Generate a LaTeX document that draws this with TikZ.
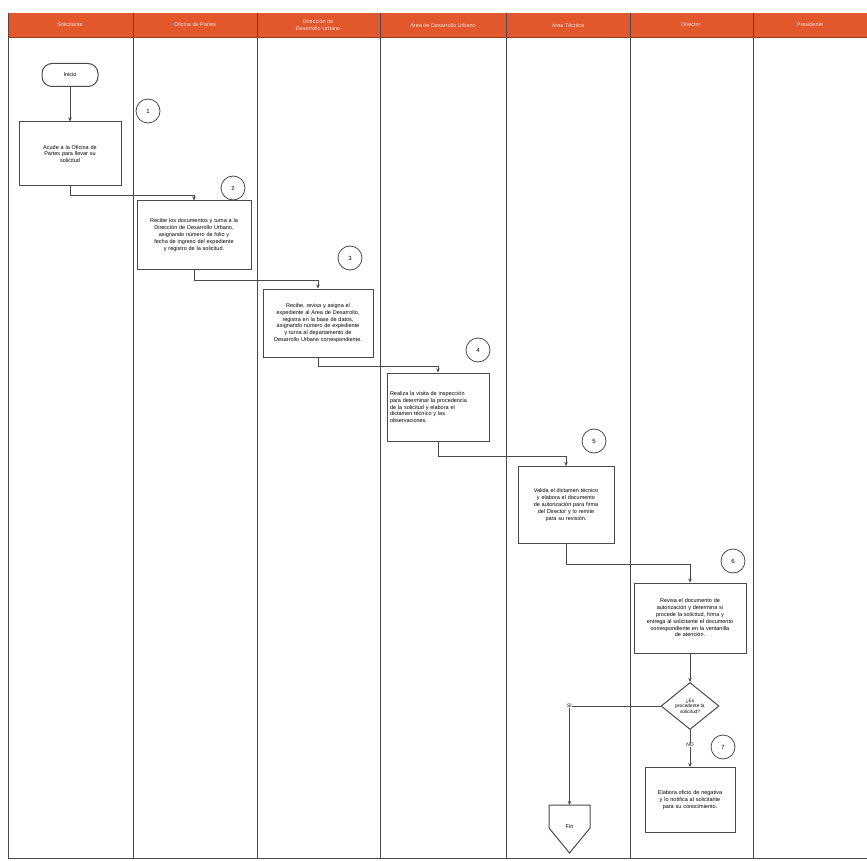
\documentclass[tikz,border=0pt]{standalone}
\usepackage{fontspec}
\setmainfont{Liberation Sans}
\usetikzlibrary{arrows.meta,shapes.geometric}
\definecolor{hdr}{HTML}{E2572B}
\definecolor{ln}{HTML}{4A4A4A}
\tikzset{
  lane/.style={draw=ln,line width=0.9pt},
  proc/.style={draw=ln,line width=1pt,fill=white,align=center,font=\fontsize{5.5}{6.8}\selectfont,inner sep=2pt},
  stepnum/.style={circle,draw=ln,line width=0.8pt,minimum size=24pt,inner sep=0pt,font=\fontsize{6}{7}\selectfont},
  conn/.style={draw=ln,line width=0.9pt,-{Stealth[length=4pt,width=3.5pt]}},
  hdrtext/.style={text=white!85!hdr,font=\fontsize{5.5}{6.5}\selectfont,align=center},
  lbl/.style={font=\fontsize{5}{6}\selectfont,fill=white,inner sep=0.5pt}
}
\begin{document}
\begin{tikzpicture}[x=1pt,y=-1pt]
\useasboundingbox (0,0) rectangle (867,861);
\fill[white] (0,0) rectangle (867,861);
% header
\fill[hdr] (8,13) rectangle (867,37);
\draw[hdr!70!black,line width=0.8pt] (8,37) -- (867,37);
% lanes
\foreach \x in {8,133,257,380,506,630,753} {\draw[lane] (\x,13) -- (\x,858);}
\draw[lane] (8,858) -- (867,858);
% header texts
\node[hdrtext] (h1) at (70,25) {Solicitante};
\node[hdrtext] (h2) at (195,25) {Oficina de Partes};
\node[hdrtext] (h3) at (318,25) {Dirección de\\Desarrollo Urbano};
\node[hdrtext] (h4) at (443,25) {Área de Desarrollo Urbano};
\node[hdrtext] (h5) at (568,25) {Área Técnica};
\node[hdrtext] (h6) at (691,25) {Director};
\node[hdrtext] (h7) at (810,25) {Presidente};
% start
\node[draw=ln,line width=1pt,rounded corners=10pt,minimum width=56pt,minimum height=23pt,font=\fontsize{5.5}{6}\selectfont] (start) at (70,75) {Inicio};
% boxes
\node[proc,minimum width=102pt,minimum height=64pt,text width=92pt] (b1) at (70,154) {Acude a la Oficina de\\Partes para llevar su\\solicitud};
\node[proc,minimum width=114pt,minimum height=68pt,text width=110pt] (b2) at (194,235) {Recibe los documentos y turna a la\\Dirección de Desarrollo Urbano,\\asignando número de folio y\\fecha de ingreso del expediente\\y registro de la solicitud.};
\node[proc,minimum width=110pt,minimum height=68pt,text width=106pt] (b3) at (318,323) {Recibe, revisa y asigna el\\expediente al Área de Desarrollo,\\registra en la base de datos,\\asignando número de expediente\\y turna al departamento de\\Desarrollo Urbano correspondiente.};
\node[proc,minimum width=102pt,minimum height=68pt,text width=96pt,align=left] (b4) at (438,407) {Realiza la visita de inspección\\para determinar la procedencia\\de la solicitud y elabora el\\dictamen técnico y las\\observaciones.};
\node[proc,minimum width=96pt,minimum height=77pt,text width=92pt] (b5) at (566,505) {Valida el dictamen técnico\\y elabora el documento\\de autorización para firma\\del Director y lo remite\\para su revisión.};
\node[proc,minimum width=112pt,minimum height=70pt,text width=108pt] (b6) at (690,618) {Revisa el documento de\\autorización y determina si\\procede la solicitud, firma y\\entrega al solicitante el documento\\correspondiente en la ventanilla\\de atención.};
\node[draw=ln,line width=1pt,diamond,aspect=1.25,minimum width=58pt,minimum height=47pt,inner sep=0pt,align=center,font=\fontsize{4.8}{5.6}\selectfont] (d1) at (690,706) {¿Es\\procedente la\\solicitud?};
\node[proc,minimum width=90pt,minimum height=65pt,text width=86pt] (b7) at (690,800) {Elabora oficio de negativa\\y lo notifica al solicitante\\para su conocimiento.};
% off-page connector
\draw[ln,line width=1pt,fill=white] (549,805) -- (590,805) -- (590,828) -- (569.5,853) -- (549,828) -- cycle;
\node[font=\fontsize{5.5}{6}\selectfont] (fin) at (569.5,826) {Fin};
\coordinate (fintop) at (569.5,805);
% step numbers
\node[stepnum] (n1) at (148,111) {1};
\node[stepnum] (n2) at (233,188) {2};
\node[stepnum] (n3) at (350,258) {3};
\node[stepnum] (n4) at (478,350) {4};
\node[stepnum] (n5) at (594,441) {5};
\node[stepnum] (n6) at (733,561) {6};
\node[stepnum] (n7) at (723,747) {7};
% connectors
\draw[conn] (start.south) -- (b1.north);
\draw[conn] (b1.south) -- ++(0,9) -| (b2.north);
\draw[conn] (b2.south) -- ++(0,11) -| (b3.north);
\draw[conn] (b3.south) -- ++(0,9) -| (b4.north);
\draw[conn] (b4.south) -- ++(0,15) -| (b5.north);
\draw[conn] (b5.south) -- ++(0,20) -| (b6.north);
\draw[conn] (b6.south) -- (d1.north);
\draw[conn] (d1.west) -| node[lbl,pos=0.5] {SI} (fintop);
\draw[conn] (d1.south) -- node[lbl,pos=0.4] {NO} (b7.north);
\end{tikzpicture}
\end{document}
